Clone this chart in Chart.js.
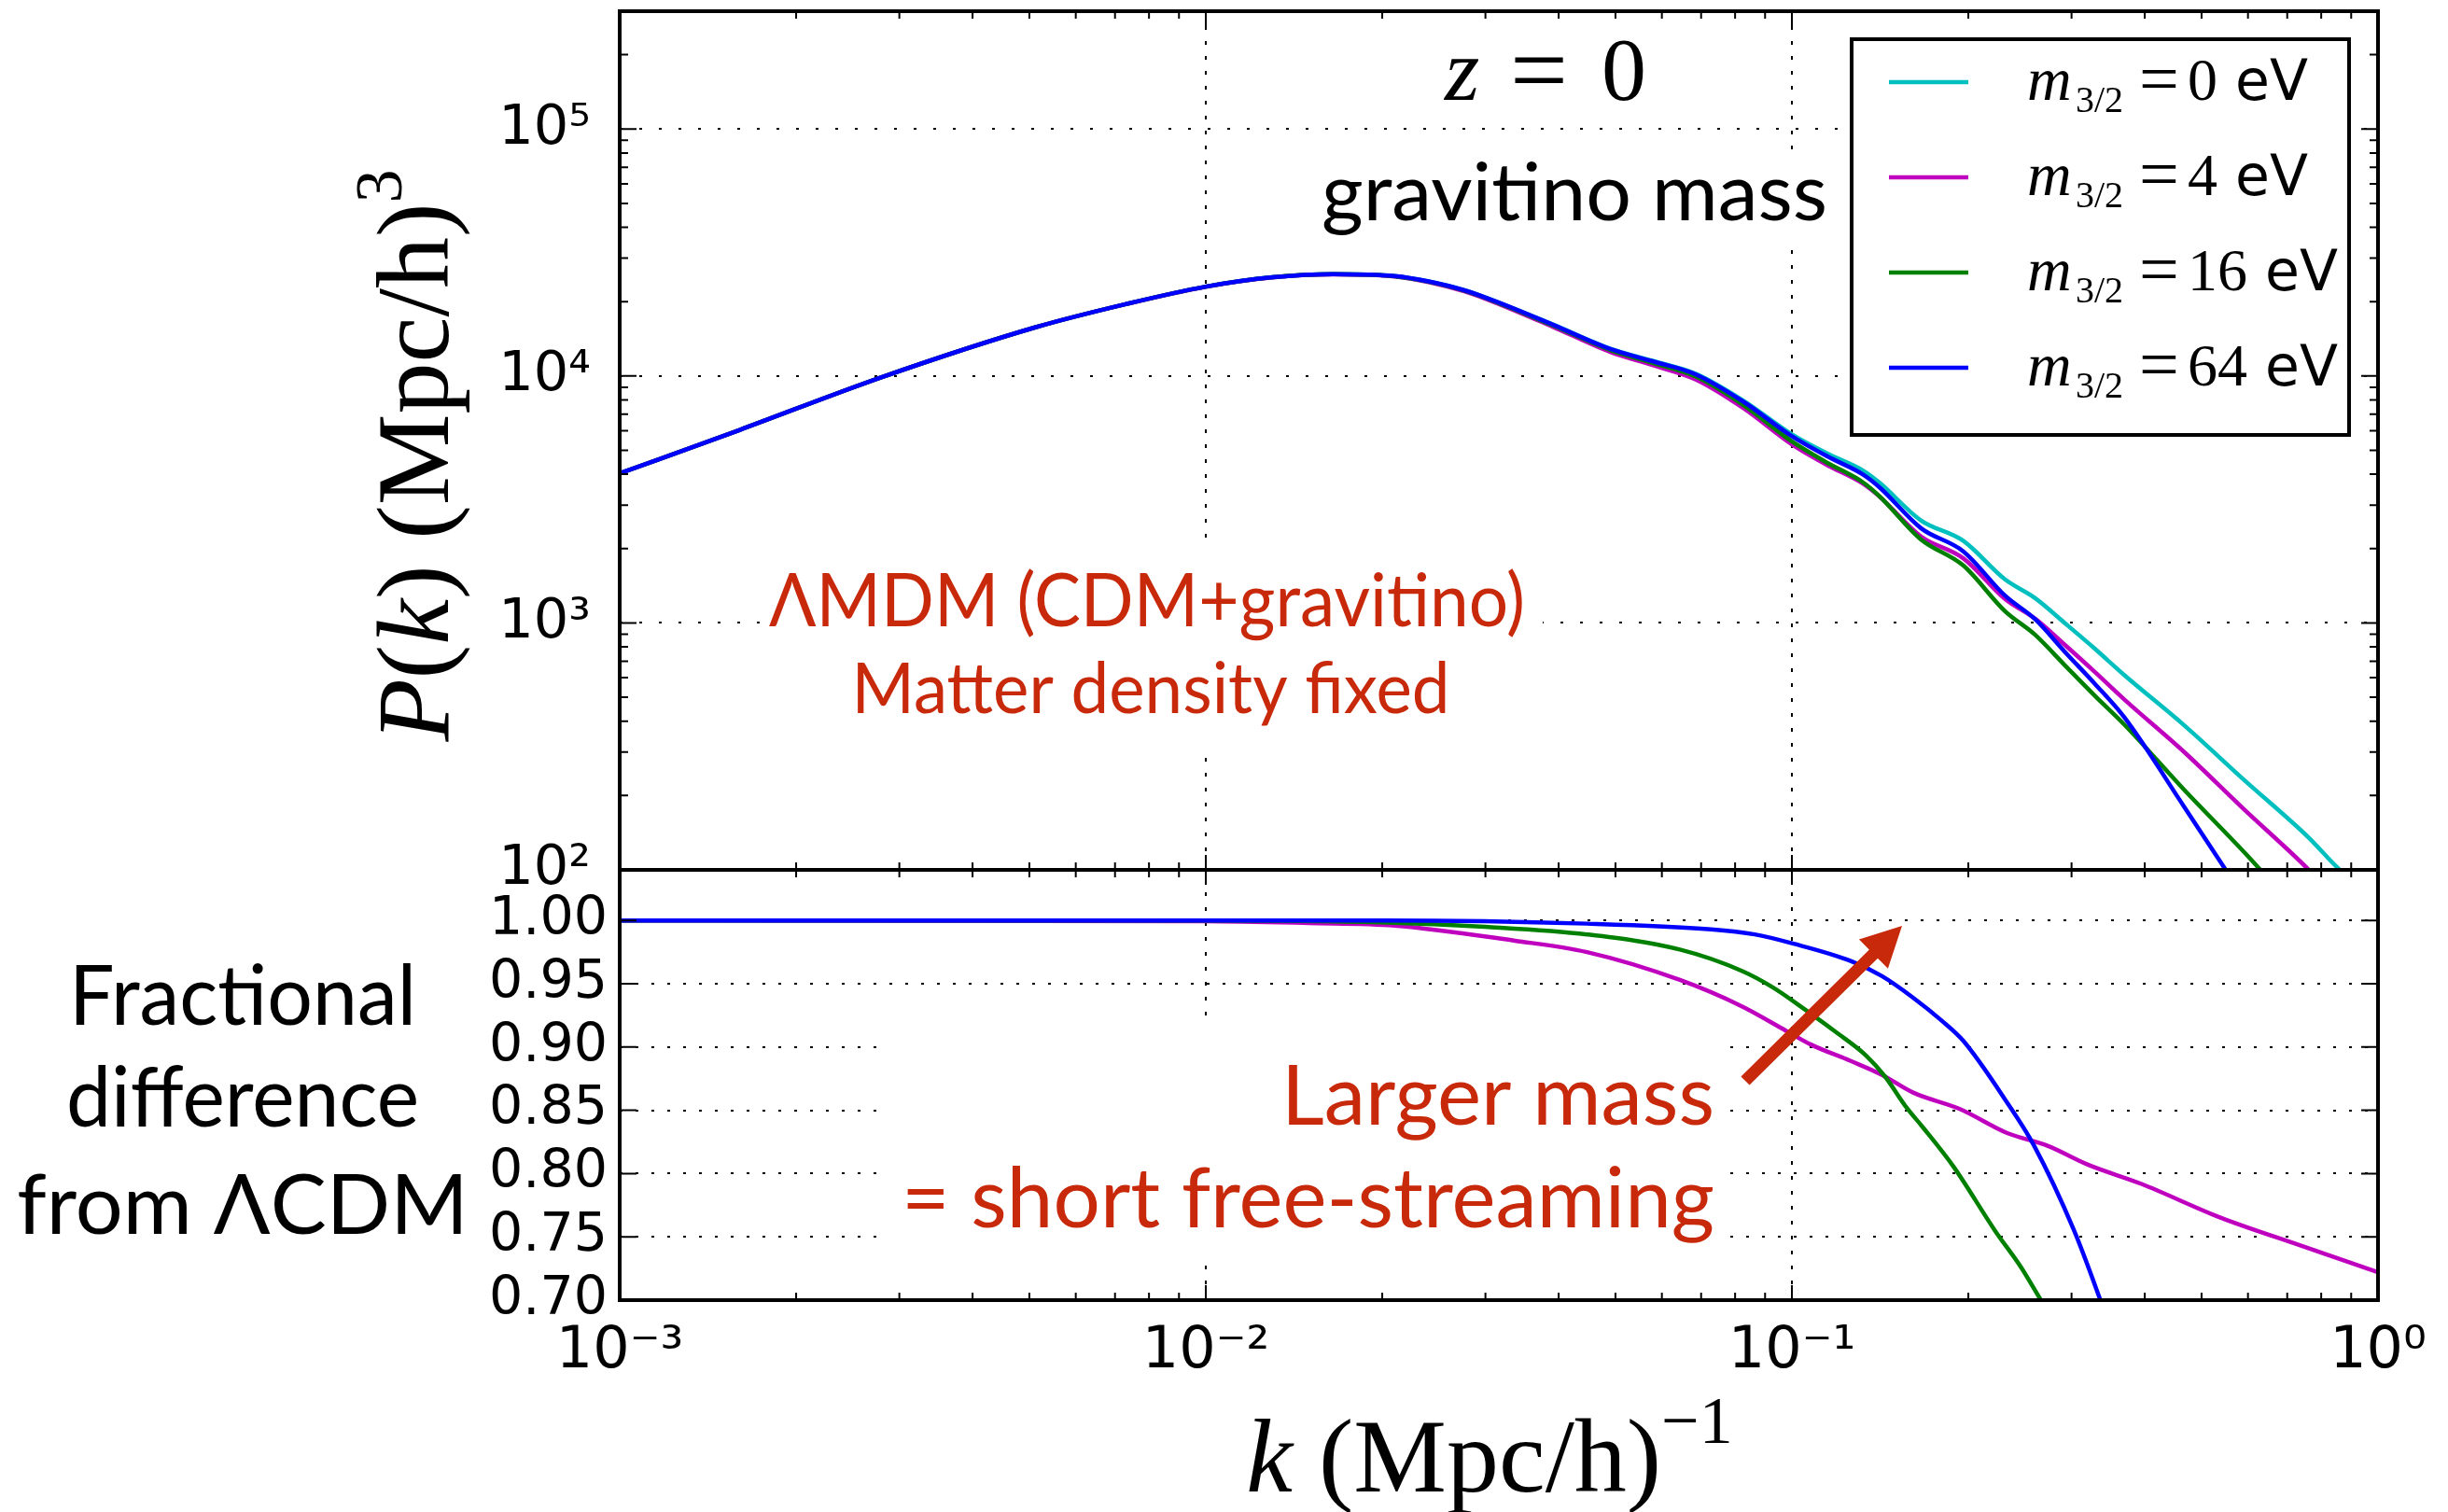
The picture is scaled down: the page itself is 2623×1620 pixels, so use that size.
<!DOCTYPE html>
<html>
<head>
<meta charset="utf-8">
<script src="https://cdn.jsdelivr.net/npm/chart.js@4.4.1/dist/chart.umd.min.js"></script>
<style>
  html, body { margin: 0; padding: 0; background: #fff; }
  canvas { display: block; }
</style>
</head>
<body>
<canvas id="pk" width="2623" height="1620"></canvas>
<script>
// k in (Mpc/h)^-1, shared by the four P(k) curves
const kPow = [0.001, 0.0016, 0.0028, 0.0051, 0.0073, 0.01, 0.013, 0.0165, 0.021, 0.024, 0.0277, 0.031, 0.039, 0.049,
   0.058, 0.0686, 0.0827, 0.1, 0.115, 0.132, 0.141, 0.166, 0.196, 0.231, 0.26, 0.292, 0.328, 0.369, 0.467, 0.589,
   0.762, 0.857, 1.0];

// P(k) for each gravitino mass
const pM0 = [4030, 6040, 9890, 15700, 19540, 23000, 25100, 25850, 25400, 24150, 22200, 20200, 16200, 12900,
   11500, 10200, 7940, 5800, 4850, 4150, 3700, 2600, 2150, 1500, 1260, 1000, 790, 615, 385, 233, 135, 101, 76];
const pM4 = [4030, 6040, 9890, 15700, 19530, 22990, 25075, 25785, 25300, 24005, 21980, 19937, 15860, 12510,
   11050, 9670, 7400, 5284, 4350, 3673, 3252, 2239, 1828, 1250, 1040, 816, 636, 490, 300, 177, 100, 74, 55];
const pM16 = [4030, 6040, 9890, 15700, 19540, 23000, 25095, 25825, 25350, 24080, 22110, 20099, 16050, 12730,
   11280, 9935, 7620, 5435, 4447, 3718, 3263, 2179, 1709, 1115, 895, 675, 510, 388, 211, 119, 61, 46, 32];
const pM64 = [4030, 6040, 9890, 15700, 19540, 23000, 25100, 25850, 25400, 24150, 22190, 20180, 16170, 12860,
   11450, 10140, 7860, 5700, 4720, 4000, 3545, 2420, 1950, 1290, 1035, 765, 570, 415, 180, 78, 30, 22, 15];

// ratio to LCDM (lower panel)
const kM4 = [0.001, 0.01, 0.015, 0.021, 0.0337, 0.0447, 0.0644, 0.0823, 0.0976, 0.1077, 0.126, 0.1425, 0.161,
   0.1935, 0.233, 0.273, 0.320, 0.394, 0.540, 0.739, 1.0];
const rM4 = [1.0, 0.9995, 0.998, 0.996, 0.984, 0.975, 0.953, 0.932, 0.913, 0.902, 0.889, 0.878, 0.864,
   0.851, 0.832, 0.822, 0.807, 0.792, 0.765, 0.743, 0.722];
const kM16 = [0.001, 0.01, 0.02, 0.03, 0.0447, 0.0644, 0.0823, 0.0929, 0.105, 0.1187, 0.134, 0.144, 0.157,
   0.167, 0.189, 0.222, 0.246, 0.266, 0.30];
const rM16 = [1.0, 1.0, 0.9985, 0.995, 0.989, 0.977, 0.960, 0.947, 0.930, 0.912, 0.893, 0.877, 0.852,
   0.837, 0.805, 0.755, 0.726, 0.70, 0.663];
const kM64 = [0.001, 0.02, 0.0447, 0.0728, 0.0864, 0.1, 0.126, 0.1425, 0.161, 0.18, 0.196, 0.233, 0.259,
   0.303, 0.336, 0.37];
const rM64 = [1.0, 1.0, 0.9975, 0.993, 0.989, 0.982, 0.968, 0.956, 0.939, 0.921, 0.905, 0.856, 0.822,
   0.755, 0.70, 0.645];

const masses = ['0', '4', '16', '64'];
const colors = ['#00bfbf', '#bf00bf', '#008000', '#0000ff'];

const xTicks = [0.001, 0.01, 0.1, 1];
const xTickLabels = ['10⁻³', '10⁻²', '10⁻¹', '10⁰'];
const pTicks = [100, 1000, 10000, 100000];
const pTickLabels = ['10²', '10³', '10⁴', '10⁵'];
const rTicks = [0.70, 0.75, 0.80, 0.85, 0.90, 0.95, 1.00];

const RED = '#c9290b';
const SERIF = '"Liberation Serif", "DejaVu Serif", serif';
const GILL = 'Lato, "Open Sans", sans-serif';

const pts = (xs, ys) => xs.map((x, i) => ({ x, y: ys[i] }));

const datasets = [
   { data: pts(kPow, pM0), borderColor: colors[0], yAxisID: 'yTop', order: 4 },
   { data: pts(kPow, pM4), borderColor: colors[1], yAxisID: 'yTop', order: 3 },
   { data: pts(kPow, pM16), borderColor: colors[2], yAxisID: 'yTop', order: 2 },
   { data: pts(kPow, pM64), borderColor: colors[3], yAxisID: 'yTop', order: 1 },
   { data: pts(kM4, rM4), borderColor: colors[1], yAxisID: 'yBot', order: 3 },
   { data: pts(kM16, rM16), borderColor: colors[2], yAxisID: 'yBot', order: 2 },
   { data: pts(kM64, rM64), borderColor: colors[3], yAxisID: 'yBot', order: 1 }
];

// keep each curve inside its own panel
const panelClip = {
   id: 'panelClip',
   beforeDatasetDraw(chart, args) {
      const y = chart.scales[args.meta.yAxisID];
      const a = chart.chartArea;
      chart.ctx.save();
      chart.ctx.beginPath();
      chart.ctx.rect(a.left, y.top, a.right - a.left, y.bottom - y.top);
      chart.ctx.clip();
   },
   afterDatasetDraw(chart) {
      chart.ctx.restore();
   }
};

// matplotlib style frames with inward ticks
const frames = {
   id: 'frames',
   afterDatasetsDraw(chart) {
      const { ctx, chartArea: a } = chart;
      const x = chart.scales.x, yt = chart.scales.yTop, yb = chart.scales.yBot;
      ctx.save();
      ctx.strokeStyle = '#000';
      ctx.lineWidth = 2;
      ctx.beginPath();
      for (let d = -3; d <= 0; d++) {
         for (let m = 1; m <= 9; m++) {
            const v = m * Math.pow(10, d);
            if (v > 1.0001) break;
            const px = x.getPixelForValue(v);
            const len = m === 1 ? 16 : 8;
            [[yt.top, 1], [yt.bottom, -1], [yb.top, 1], [yb.bottom, -1]].forEach(([py, s]) => {
               ctx.moveTo(px, py);
               ctx.lineTo(px, py + s * len);
            });
         }
      }
      for (let d = 2; d <= 5; d++) {
         for (let m = 1; m <= 9; m++) {
            const v = m * Math.pow(10, d);
            if (v > yt.max * 1.0001) break;
            const py = yt.getPixelForValue(v);
            const len = m === 1 ? 18 : 9;
            ctx.moveTo(a.left, py); ctx.lineTo(a.left + len, py);
            ctx.moveTo(a.right, py); ctx.lineTo(a.right - len, py);
         }
      }
      rTicks.forEach(v => {
         const py = yb.getPixelForValue(v);
         ctx.moveTo(a.left, py); ctx.lineTo(a.left + 18, py);
         ctx.moveTo(a.right, py); ctx.lineTo(a.right - 18, py);
      });
      ctx.stroke();
      ctx.lineWidth = 4;
      ctx.strokeRect(a.left, yt.top, a.right - a.left, yt.bottom - yt.top);
      ctx.strokeRect(a.left, yb.top, a.right - a.left, yb.bottom - yb.top);
      ctx.restore();
   }
};

// text runs with mixed fonts: [text, font, dy]
function runs(ctx, parts, x, y, align) {
   let w = 0;
   parts.forEach(p => { ctx.font = p[1]; p.w = ctx.measureText(p[0]).width; w += p.w; });
   let cx = align === 'center' ? x - w / 2 : x;
   ctx.textAlign = 'left';
   parts.forEach(p => { ctx.font = p[1]; ctx.fillText(p[0], cx, y + (p[2] || 0)); cx += p.w; });
}

function gill(ctx, text, x, y, size, maxW, align, color) {
   ctx.font = size + 'px ' + GILL;
   ctx.textAlign = align;
   ctx.fillStyle = color;
   ctx.fillText(text, x, y, maxW);
}

function arrow(ctx, x0, y0, x1, y1, w, hl, hw) {
   const len = Math.hypot(x1 - x0, y1 - y0);
   const ux = (x1 - x0) / len, uy = (y1 - y0) / len;
   const nx = -uy, ny = ux;
   const bx = x1 - ux * hl, by = y1 - uy * hl;
   ctx.beginPath();
   ctx.moveTo(x0 + nx * w / 2, y0 + ny * w / 2);
   ctx.lineTo(bx + nx * w / 2, by + ny * w / 2);
   ctx.lineTo(bx + nx * hw, by + ny * hw);
   ctx.lineTo(x1, y1);
   ctx.lineTo(bx - nx * hw, by - ny * hw);
   ctx.lineTo(bx - nx * w / 2, by - ny * w / 2);
   ctx.lineTo(x0 - nx * w / 2, y0 - ny * w / 2);
   ctx.closePath();
   ctx.fill();
}

const notes = {
   id: 'notes',
   afterDraw(chart) {
      const ctx = chart.ctx;
      ctx.save();
      ctx.textBaseline = 'alphabetic';

      // white boxes behind the annotations
      ctx.fillStyle = '#fff';
      ctx.fillRect(817, 578, 836, 222);
      ctx.fillRect(944, 1100, 906, 255);
      ctx.fillRect(1404, 165, 572, 100);

      gill(ctx, 'ΛMDM (CDM+gravitino)', 1229, 671, 80, 810, 'center', RED);
      gill(ctx, 'Matter density fixed', 1233, 764, 76, 641, 'center', RED);
      gill(ctx, 'gravitino mass', 1416, 236, 86, 547, 'left', '#000');
      gill(ctx, 'Larger mass', 1837, 1205, 90, 464, 'right', RED);
      gill(ctx, '= short free-streaming', 1837, 1315, 90, 871, 'right', RED);

      gill(ctx, 'Fractional', 260, 1098, 90, 372, 'center', '#000');
      gill(ctx, 'difference', 260, 1207, 90, 378, 'center', '#000');
      gill(ctx, 'from ΛCDM', 260, 1322, 90, 484, 'center', '#000');

      ctx.fillStyle = RED;
      arrow(ctx, 1870, 1158, 2038, 992, 13, 43, 22);

      // z = 0
      ctx.fillStyle = '#000';
      ctx.textAlign = 'left';
      ctx.font = 'italic 96px ' + SERIF;
      ctx.fillText('z', 1548, 107);
      ctx.font = '110px ' + SERIF;
      ctx.fillText('=', 1618, 112);
      ctx.font = '96px ' + SERIF;
      ctx.fillText('0', 1716, 107);

      // axis titles
      runs(ctx, [['k', 'italic 112px ' + SERIF], [' (Mpc/h)', '112px ' + SERIF], ['−1', '72px ' + SERIF, -52]],
         1596, 1598, 'center');
      ctx.save();
      ctx.translate(480, 488);
      ctx.rotate(-Math.PI / 2);
      runs(ctx, [['P', 'italic 110px ' + SERIF], ['(', '110px ' + SERIF], ['k', 'italic 110px ' + SERIF],
         [')', '110px ' + SERIF], [' (Mpc/h)', '110px ' + SERIF], ['3', '72px ' + SERIF, -50]], 0, 0, 'center');
      ctx.restore();

      // legend
      ctx.fillStyle = '#fff';
      ctx.fillRect(1984, 42, 533, 424);
      ctx.strokeStyle = '#000';
      ctx.lineWidth = 4;
      ctx.strokeRect(1984, 42, 533, 424);
      masses.forEach((m, i) => {
         const yl = 88 + i * 102;
         ctx.strokeStyle = colors[i];
         ctx.lineWidth = 4.5;
         ctx.beginPath();
         ctx.moveTo(2024, yl);
         ctx.lineTo(2109, yl);
         ctx.stroke();
         ctx.fillStyle = '#000';
         ctx.textAlign = 'left';
         ctx.font = 'italic 66px ' + SERIF;
         ctx.fillText('m', 2172, yl + 19);
         ctx.font = '40px ' + SERIF;
         ctx.fillText('3/2', 2224, yl + 32);
         ctx.font = '76px ' + SERIF;
         ctx.fillText('=', 2292, yl + 22);
         ctx.font = '64px ' + SERIF;
         ctx.fillText(m, 2344, yl + 19);
         const wNum = ctx.measureText(m).width;
         ctx.font = '60px "DejaVu Sans"';
         ctx.fillText(' eV', 2344 + wNum, yl + 19);
      });
      ctx.restore();
   }
};

new Chart(document.getElementById('pk'), {
   type: 'line',
   data: { datasets },
   options: {
      responsive: false,
      animation: false,
      devicePixelRatio: 1,
      layout: { padding: { top: 12, right: 75, left: 0, bottom: 0 } },
      plugins: { legend: { display: false }, tooltip: { enabled: false } },
      elements: {
         point: { radius: 0 },
         line: { borderWidth: 4.5, cubicInterpolationMode: 'monotone', fill: false }
      },
      scales: {
         x: {
            type: 'logarithmic', position: 'bottom', min: 0.001, max: 1,
            afterBuildTicks: s => { s.ticks = xTicks.map(v => ({ value: v })); },
            afterFit: s => { s.height = 227; s.paddingLeft = 0; s.paddingRight = 0; },
            grid: { color: '#000', lineWidth: 2, drawTicks: false },
            border: { display: false, dash: [4, 12] },
            ticks: {
               autoSkip: false, maxRotation: 0, padding: 19, color: '#000',
               font: { family: 'DejaVu Sans', size: 62 },
               callback: v => xTickLabels[xTicks.indexOf(v)]
            }
         },
         yTop: {
            type: 'logarithmic', position: 'left', stack: 'panels', stackWeight: 920, weight: 1,
            min: 100, max: 300000,
            afterBuildTicks: s => { s.ticks = pTicks.map(v => ({ value: v })); },
            afterFit: s => { s.width = 664; s.paddingTop = 0; s.paddingBottom = 0; },
            grid: { color: '#000', lineWidth: 2, drawTicks: false },
            border: { display: false, dash: [3, 18] },
            ticks: {
               autoSkip: false, padding: 31, color: '#000',
               font: { family: 'DejaVu Sans', size: 59 },
               callback: v => pTickLabels[pTicks.indexOf(v)]
            }
         },
         yBot: {
            type: 'linear', position: 'left', stack: 'panels', stackWeight: 461, weight: 0,
            min: 0.70, max: 1.04,
            afterBuildTicks: s => { s.ticks = rTicks.map(v => ({ value: v })); },
            afterFit: s => { s.width = 664; s.paddingTop = 0; s.paddingBottom = 0; },
            grid: { color: '#000', lineWidth: 2, drawTicks: false },
            border: { display: false, dash: [3, 14] },
            ticks: {
               autoSkip: false, padding: 13, color: '#000',
               font: { family: 'DejaVu Sans', size: 57 },
               callback: v => v.toFixed(2)
            }
         }
      }
   },
   plugins: [panelClip, frames, notes]
});
</script>
</body>
</html>
